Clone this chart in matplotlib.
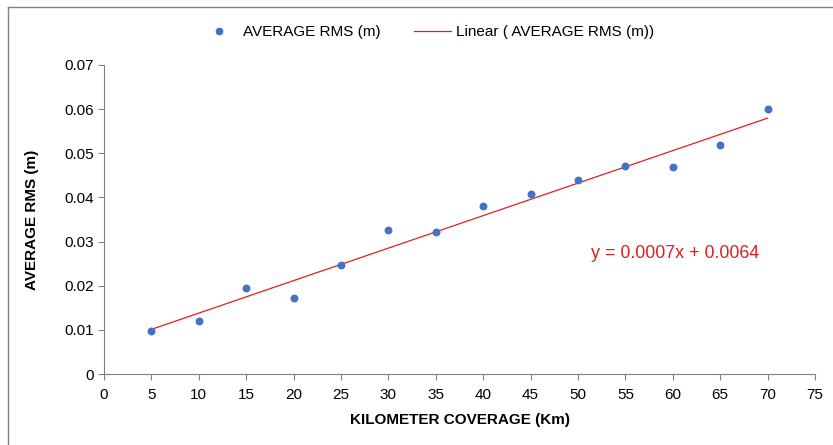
import matplotlib.pyplot as plt
from matplotlib.lines import Line2D
import numpy as np

# datos
km = [5, 10, 15, 20, 25, 30, 35, 40, 45, 50, 55, 60, 65, 70]
rms = [0.0098, 0.0120, 0.0195, 0.0172, 0.0246, 0.0326, 0.0321,
       0.0381, 0.0408, 0.0440, 0.0471, 0.0469, 0.0519, 0.0600]
x_ticks = list(range(0, 80, 5))
y_ticks = [0, 0.01, 0.02, 0.03, 0.04, 0.05, 0.06, 0.07]
y_tick_labels = ['0', '0.01', '0.02', '0.03', '0.04', '0.05', '0.06', '0.07']
ecuacion = 'y = 0.0007x + 0.0064'

plt.rcParams['font.family'] = ['Liberation Sans', 'DejaVu Sans']

fig = plt.figure(figsize=(8.33, 4.45), dpi=100)
ax = fig.add_axes([104 / 833, 1 - 374 / 445, (815 - 104) / 833, (374 - 65) / 445])

azul = '#4472C4'
rojo = '#E02020'
gris = '#808080'

ax.scatter(km, rms, s=22, color=azul, zorder=3)

# linea de tendencia
m, b = np.polyfit(km, rms, 1)
xs = np.array([km[0], km[-1]])
ax.plot(xs, m * xs + b, color=rojo, lw=0.9, zorder=2)

ax.set_xlim(0, 75)
ax.set_ylim(0, 0.07)
ax.set_xticks(x_ticks)
ax.set_yticks(y_ticks)
ax.set_yticklabels(y_tick_labels)

for s in ['top', 'right']:
    ax.spines[s].set_visible(False)
for s in ['left', 'bottom']:
    ax.spines[s].set_color(gris)
ax.tick_params(axis='both', direction='out', length=4, color=gris, labelsize=11)
ax.tick_params(axis='x', pad=6)

ax.set_xlabel('KILOMETER COVERAGE (Km)', fontsize=11, fontweight='bold', labelpad=8)
ax.set_ylabel('AVERAGE RMS (m)', fontsize=11, fontweight='bold', labelpad=18)

ax.text(51.4, 0.0272, ecuacion, color=rojo, fontsize=12.9, va='center')

handles = [Line2D([], [], marker='o', ls='none', color=azul, markersize=4.5),
           Line2D([], [], color=rojo, lw=0.9)]
fig.legend(handles, ['AVERAGE RMS (m)', 'Linear ( AVERAGE RMS (m))'],
           loc='center', bbox_to_anchor=(0.513, 1 - 32 / 445), ncol=2,
           frameon=False, fontsize=11, handlelength=2.4, handletextpad=0.35,
           columnspacing=2.2)

# borde exterior
fig.add_artist(Line2D([8 / 833, 1], [1 - 7 / 445, 1 - 7 / 445], color=gris, lw=1))
fig.add_artist(Line2D([8 / 833, 8 / 833], [0, 1 - 7 / 445], color=gris, lw=1))

fig.savefig('out.png', dpi=100)
